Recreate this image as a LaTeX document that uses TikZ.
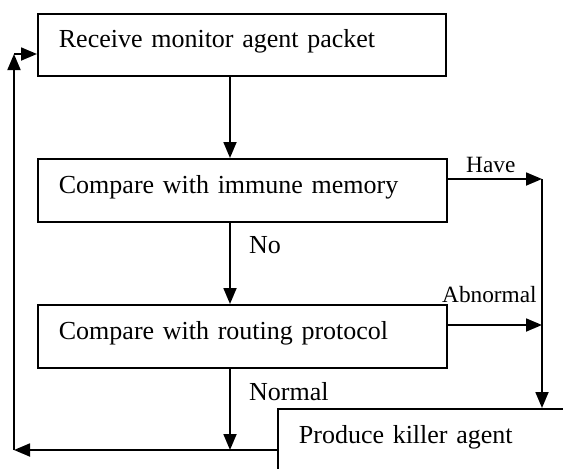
\documentclass[tikz,border=0pt]{standalone}
\usepackage{fontspec}
\setmainfont{Liberation Serif}
\usetikzlibrary{arrows.meta}
\begin{document}
\begin{tikzpicture}[x=1pt,y=-1pt,
  box/.style={draw, line width=1.8pt, anchor=north west, inner xsep=21pt, inner ysep=0pt,
    minimum height=63pt, text height=18pt, text depth=12.6pt, align=left,
    font=\fontsize{26}{30}\selectfont},
  lbl/.style={anchor=base west, inner sep=0pt, font=\fontsize{26}{30}\selectfont},
  lblsmall/.style={lbl, font=\fontsize{23.3}{28}\selectfont},
  link/.style={line width=1.8pt},
  arr/.style={link, -{Triangle[length=16pt,width=13pt]}}]
\useasboundingbox (0,0) rectangle (563,469);

% process boxes
\node[box, text width=366pt, minimum height=62pt] (b1) at (37,13) {Receive monitor agent packet};
\node[box, text width=367pt] (b2) at (37,158) {Compare with immune memory};
\node[box, text width=367pt] (b3) at (37,304) {Compare with routing protocol};
\node[box, text width=300pt] (b4) at (277,408) {Produce killer agent};

% routing points
\coordinate (spine) at (230,0);
\coordinate (join) at (230,450);
\coordinate (have) at (542,179);
\coordinate (abn) at (542,325);
\coordinate (lret) at (14,450);
\coordinate (ltop) at (14,54);

% main flow
\draw[arr] (b1.south -| spine) -- (b2.north -| spine);
\draw[arr] (b2.south -| spine) -- (b3.north -| spine);
\draw[arr] (b3.south -| spine) -- (join);

% detection branches
\draw[arr] (b2.east |- have) -- (have);
\draw[arr] (b3.east |- abn) -- (abn);
\draw[arr] (have) -- (b4.north -| have);

% return loop
\draw[arr] (b4.west |- join) -- (lret);
\draw[arr] (lret) -- (ltop);
\draw[arr] (ltop) -- (b1.west |- ltop);

% branch labels
\node[lblsmall] (lhave) at (466,172) {Have};
\node[lblsmall] (labn) at (442,302) {Abnormal};
\node[lbl] (lno) at (249,253) {No};
\node[lbl] (lnormal) at (249,400) {Normal};
\end{tikzpicture}
\end{document}
